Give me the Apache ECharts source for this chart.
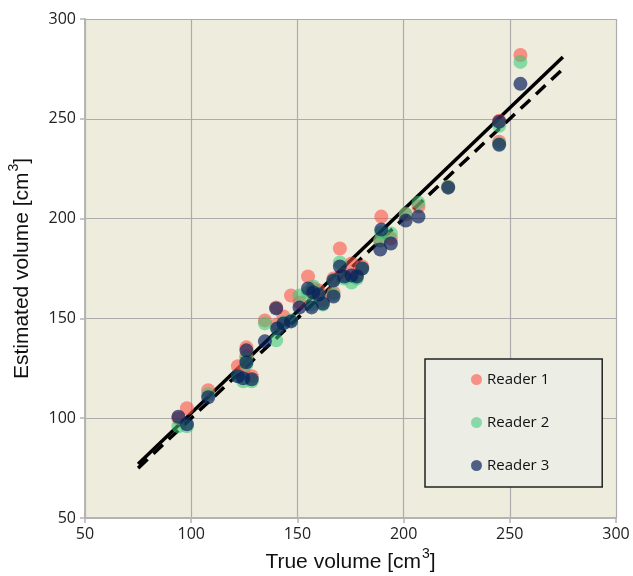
<!DOCTYPE html>
<html>
<head>
<meta charset="utf-8">
<script src="https://cdn.jsdelivr.net/npm/echarts@6/dist/echarts.min.js"></script>
<style>
html,body{margin:0;padding:0;background:#fff;}
#chart{width:633px;height:576px;}
</style>
</head>
<body>
<div id="chart"></div>
<script>
// True volumes (cm3) of each case
var trueVolume = [94, 98, 108, 122, 124.5, 126, 126, 128.5, 134.7, 140, 140.5, 143.5, 147, 151, 155, 156.7, 157.5, 160, 162, 167, 167, 170, 172, 175.5, 178, 180.5, 189, 189.5, 194, 201, 207, 221, 245, 245, 255];
// Estimated volumes by reader
var reader1 = [100, 105, 114, 126, 124, 135.5, 131, 121, 149, 155.5, 147, 151, 161.5, 158, 171, 163, 165, 164, 159, 170, 163, 185, 172, 177.5, 172, 176, 189, 201, 190, 202, 206, 216, 249, 238.5, 282];
var reader2 = [96, 96, 112, 121, 118.5, 130, 127, 118.5, 147.5, 139, 145, 148, 149, 161.5, 163, 157, 166, 162, 157, 169, 162, 178, 170, 168, 170, 175, 189, 193, 192.5, 202.5, 208, 216, 246.5, 237.5, 278.5];
var reader3 = [100.7, 97, 110.5, 121, 120, 134, 128, 119.5, 138.5, 155, 145, 147.5, 148.5, 155.5, 165, 155.5, 163, 162, 157.5, 169, 161, 176, 171, 171.5, 171, 175, 184.5, 194.5, 187.5, 199, 201, 215.5, 248.5, 237, 267.5];
// Lines: regression (solid) and identity (dashed)
var fitX = [75, 275];
var fitY = [77, 281];
var identityX = [75, 275];
var identityY = [75, 275];
// Axis ticks
var xTicks = [50, 100, 150, 200, 250, 300];
var yTicks = [50, 100, 150, 200, 250, 300];
var seriesNames = ['Reader 1', 'Reader 2', 'Reader 3'];

function pairs(xs, ys){ return xs.map(function(x,i){ return [x, ys[i]]; }); }

var chart = echarts.init(document.getElementById('chart'), null, {renderer:'canvas'});
var tickFont = {fontFamily:'Open Sans', fontSize:16, color:'#222'};
var titleRich = {
  a:{fontFamily:'Liberation Sans', fontSize:21, color:'#111', lineHeight:26, verticalAlign:'bottom'},
  s:{fontFamily:'Liberation Sans', fontSize:14, color:'#111', lineHeight:26, verticalAlign:'top', padding:[0,0,6,1]}
};
var option = {
  animation:false,
  backgroundColor:'#ffffff',
  grid:{left:85, top:19, right:17, bottom:58, show:true, backgroundColor:'#eeecdd', borderWidth:0,
        containLabel:false, outerBoundsMode:'none'},
  legend:{
    data:seriesNames, orient:'vertical', left:425, top:359,
    padding:[13,53,14,46], itemGap:28, itemWidth:11, itemHeight:11,
    backgroundColor:'#eceee6', borderColor:'#222', borderWidth:1.5,
    textStyle:{fontFamily:'Open Sans', fontSize:15, color:'#111'}
  },
  xAxis:{
    type:'value', min:xTicks[0], max:xTicks[xTicks.length-1], interval:50,
    axisLine:{show:true, lineStyle:{color:'#b4b4b4', width:2}},
    axisTick:{show:true, length:5, lineStyle:{color:'#b4b4b4', width:1.5}},
    splitLine:{show:true, lineStyle:{color:'#acacac', width:1.2}},
    axisLabel:Object.assign({margin:8}, tickFont),
    name:'{a|True volume [cm}{s|3}{a|]}', nameLocation:'middle', nameGap:26,
    nameTextStyle:{rich:titleRich}
  },
  yAxis:{
    type:'value', min:yTicks[0], max:yTicks[yTicks.length-1], interval:50,
    axisLine:{show:true, lineStyle:{color:'#b4b4b4', width:2}},
    axisTick:{show:true, length:5, lineStyle:{color:'#b4b4b4', width:1.5}},
    splitLine:{show:true, lineStyle:{color:'#acacac', width:1.2}},
    axisLabel:Object.assign({margin:9}, tickFont),
    name:'{a|Estimated volume [cm}{s|3}{a|]}', nameLocation:'middle', nameGap:52, nameRotate:90,
    nameTextStyle:{rich:titleRich}
  },
  series:[
    {type:'line', data:pairs(identityX, identityY), symbol:'none', z:2, silent:true,
     lineStyle:{color:'#000', width:3.5, type:[13,8]}},
    {type:'line', data:pairs(fitX, fitY), symbol:'none', z:2, silent:true,
     lineStyle:{color:'#000', width:3.5}},
    {name:seriesNames[0], type:'scatter', data:pairs(trueVolume, reader1), symbolSize:14, z:3,
     itemStyle:{color:'rgba(255,75,64,0.72)', borderWidth:0}},
    {name:seriesNames[1], type:'scatter', data:pairs(trueVolume, reader2), symbolSize:14, z:4,
     itemStyle:{color:'rgba(56,199,120,0.7)', borderWidth:0}},
    {name:seriesNames[2], type:'scatter', data:pairs(trueVolume, reader3), symbolSize:14, z:5,
     itemStyle:{color:'rgba(8,30,90,0.86)', borderWidth:0}}
  ]
};
chart.setOption(option);
</script>
</body>
</html>
